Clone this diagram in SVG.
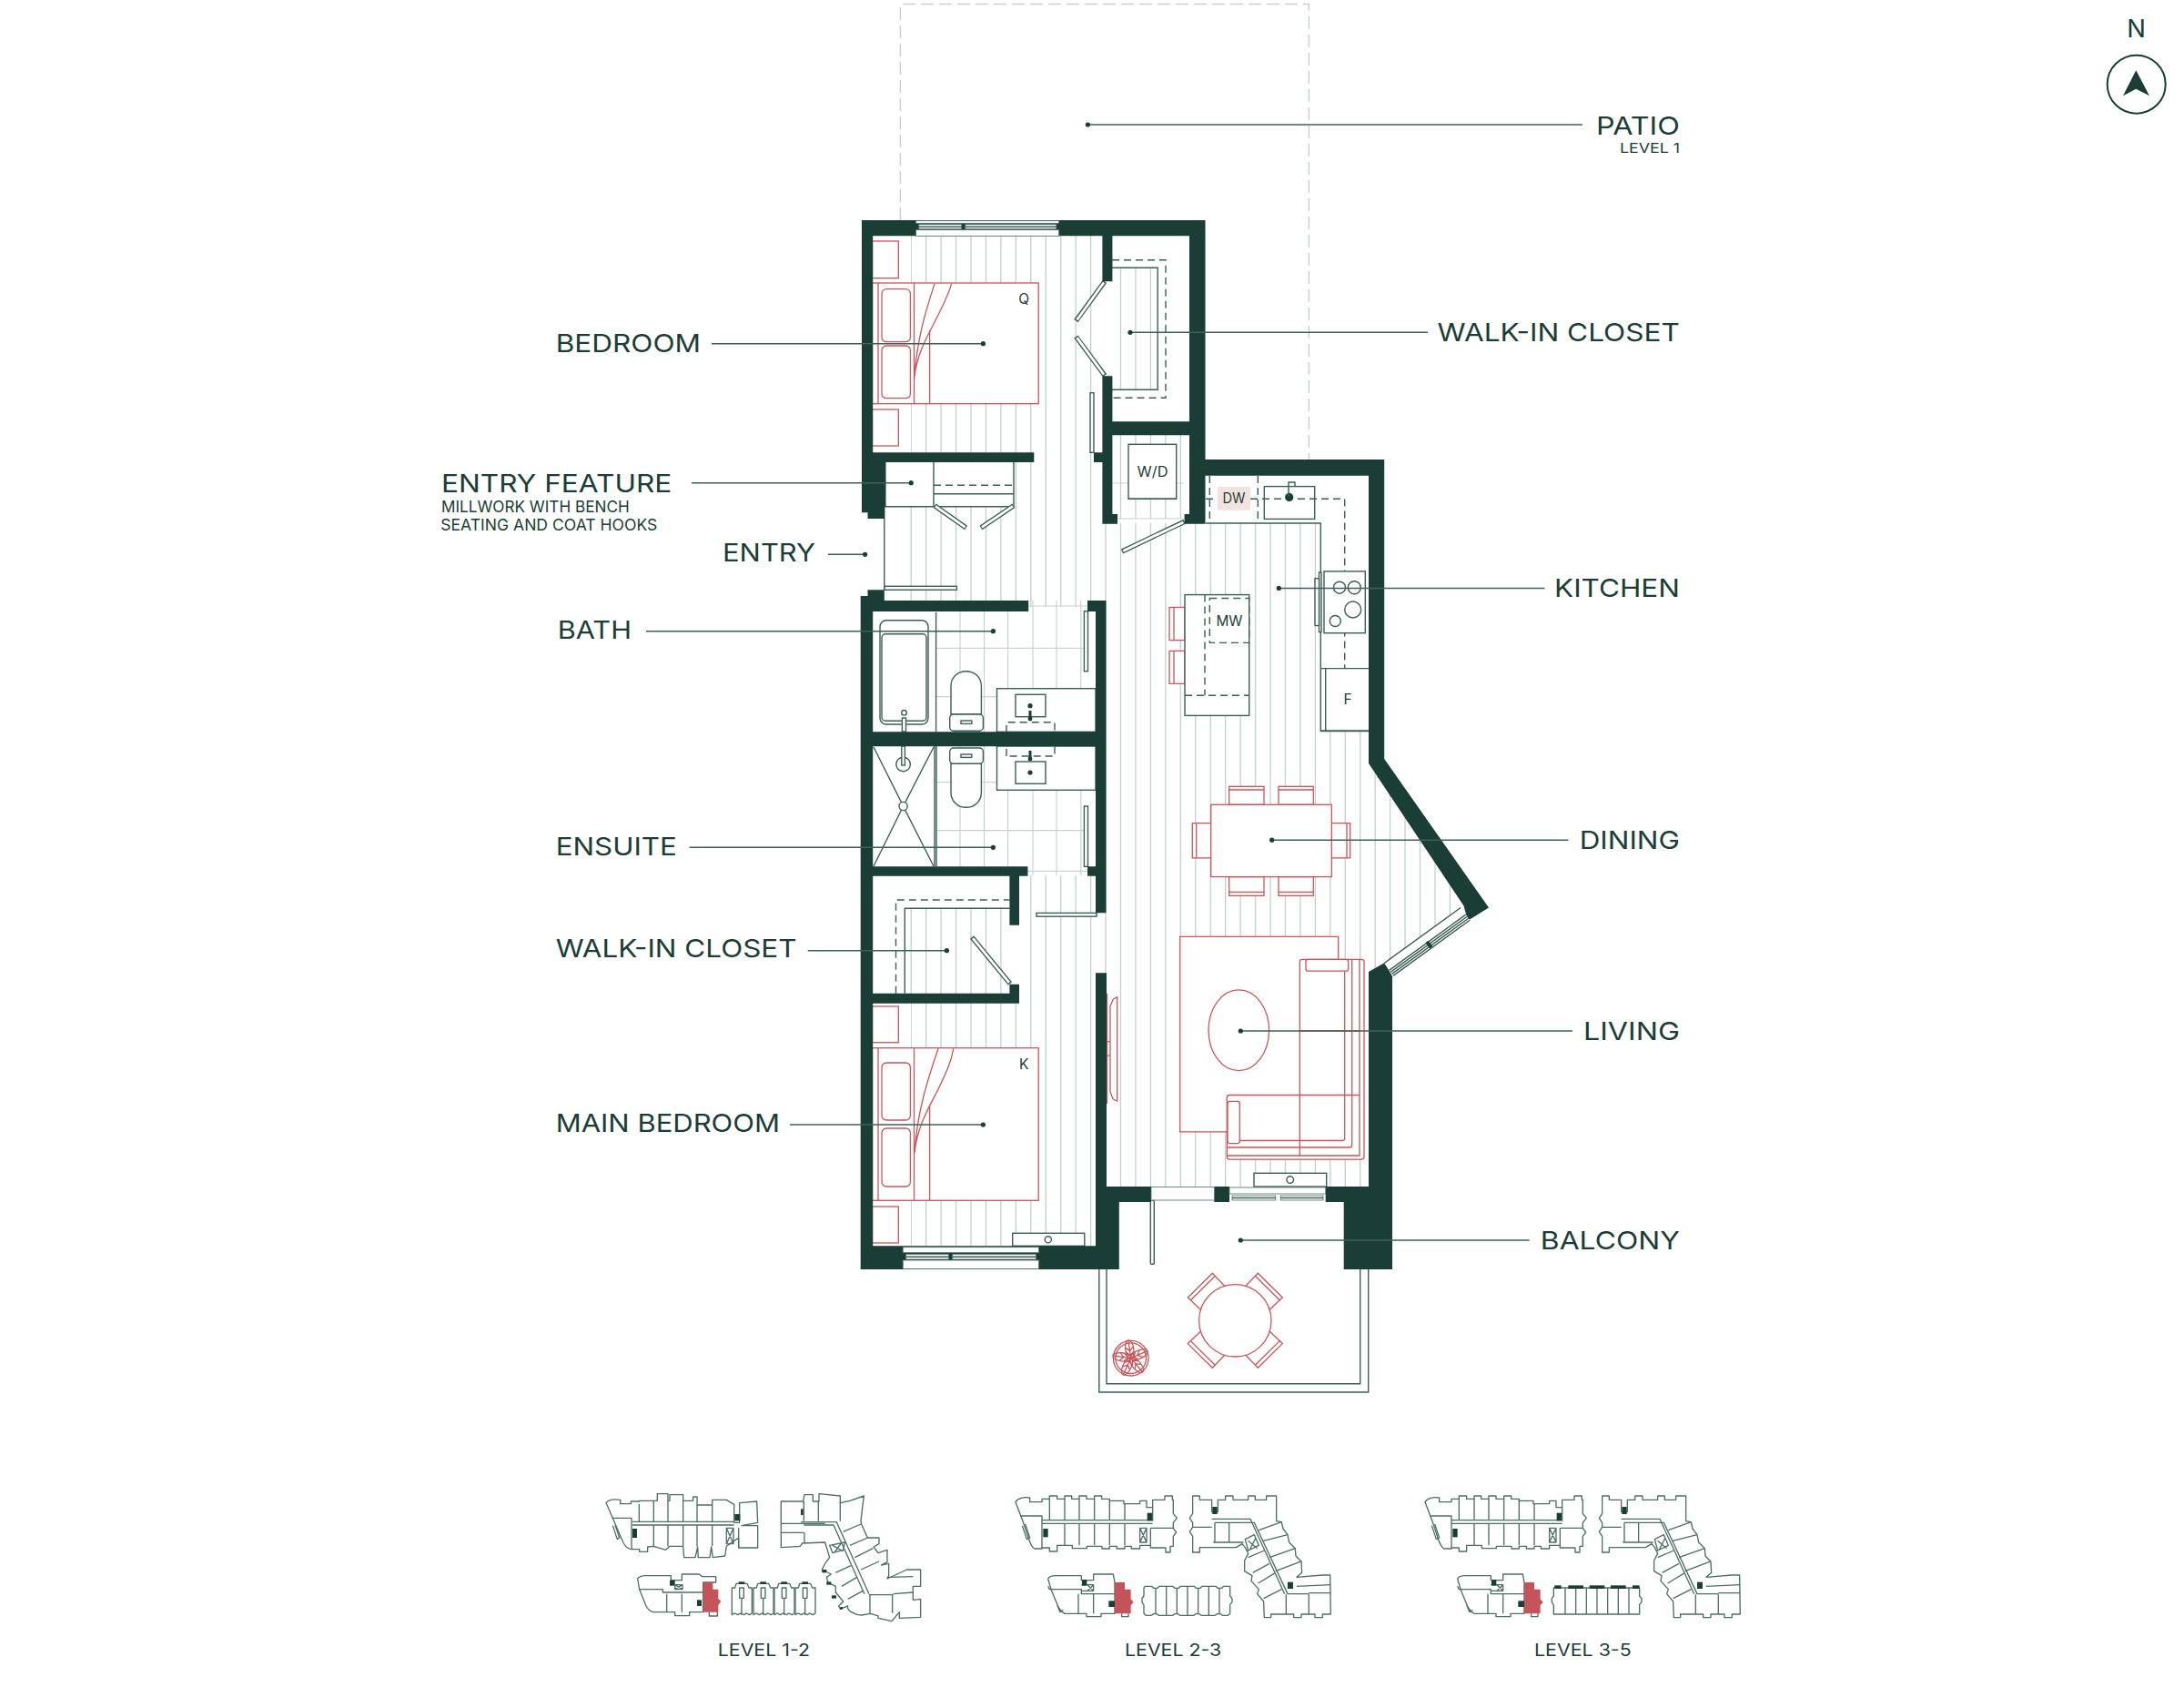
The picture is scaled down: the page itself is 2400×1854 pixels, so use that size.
<svg xmlns="http://www.w3.org/2000/svg" xmlns:xlink="http://www.w3.org/1999/xlink" width="2400" height="1854" viewBox="0 0 2400 1854">
<style>
text{font-family:Inter,"Liberation Sans",sans-serif;fill:#1b3d36}
.lb{font-size:27.5px}
.sm{font-size:17px}
.fx{font-size:15.5px;text-anchor:middle}
.wall{fill:#1a3d36}
.r{fill:#fff;stroke:#c9565b;stroke-width:1.3}
.rn{fill:none;stroke:#c9565b;stroke-width:1.3}
.l{fill:#fff;stroke:#3c5f56;stroke-width:1.4}
.ln{fill:none;stroke:#3c5f56;stroke-width:1.4}
.d{fill:none;stroke:#3c5f56;stroke-width:1.4;stroke-dasharray:8 5}
.do{fill:none;stroke:#3c5f56;stroke-width:5.4}
.di{fill:none;stroke:#fff;stroke-width:2.8}
.fl{fill:none;stroke:#c4d0cc;stroke-width:1.3}
.tl{fill:none;stroke:#c9d4d0;stroke-width:1.2}
.pt{fill:none;stroke:#c8d2cf;stroke-width:1.5;stroke-dasharray:14 6}
.w{fill:#fff;stroke:#4d6f66;stroke-width:.8}
.ld{fill:none;stroke:#3f6058;stroke-width:1.5}
.dot{fill:#1a3d36}
.p{fill:none;stroke:#4d6f66;stroke-width:4;stroke-linejoin:round}
.pd{fill:#1a3d36}
.pf{fill:#c4545a}
</style>
<defs>
<clipPath id="floorClip">
<rect x="1001" y="259" width="210" height="238"/>
<rect x="1114" y="497" width="102" height="170"/>
<rect x="972" y="556.7" width="232" height="105"/>
<rect x="1120" y="962" width="96" height="140"/>
<rect x="1001" y="1102" width="203" height="267"/>
<rect x="994.3" y="998" width="115" height="94"/>
<rect x="1222" y="294" width="50" height="134"/>
<rect x="1222" y="478" width="79" height="92"/>
<polygon points="1204,575 1451.3,575 1451.3,803.6 1504,803.6 1504,839 1610,996 1521,1060 1504,1068 1504,1304 1204,1304"/>
</clipPath>
<g id="bchair"><polygon class="r" points="-38,-12 -52,-25.3 -25,-52 -11.6,-38"/><path class="rn" d="M-49,-22.3L-22,-49"/></g>
<g id="leaf"><ellipse class="rn" cx="0" cy="-10" rx="4.6" ry="10"/><path class="rn" d="M0,-20V0M-4,-12L0,-8L4,-12M-4,-7L0,-3L4,-7"/></g>
<g id="planCore">
<path class="p" d="M48,62C55,50 75,45 95,48V62H135V52H160V42H185V52H210V42H233V52H258V42H282V52H308V42H332V52H358V58H405V68H458V58H480V80H500V55H540V42H565V55H568V100L580,115L568,130V148L578,162L568,175V208H558V228H543V213H493V205H458V216H430V208H408V216H382V208H358V216H333V208H283V215H235V205H185V225H160V213H135V216H110C100,210 95,195 90,180L72,125Z"/>
<path class="p" d="M70,140L85,185L95,180L80,135M65,108H135V213M135,122H500M135,133H500M160,52V122M210,52V122M258,52V122M308,52V122M358,58V122M408,68V122M210,133V205M258,133V205M308,133V205M358,133V205M408,133V205M493,148H568M493,148V205M500,80V125M458,148H480V195H458ZM458,148L480,195M480,148L458,195"/>
<rect class="pd" x="139" y="150" width="16" height="28"/><rect class="pd" x="482" y="98" width="16" height="26"/>
<path class="p" d="M632,55V42H655V55H695V95H715V55H740V42H765V55H815V42H838V55H875V42H908V125L925,128L930,150L945,170L950,195L970,215L972,240L990,258L992,295L975,310L1060,303H1085L1087,432H1060V443H1035V432H990V443H965V432H890V443H868L866,390L845,365L850,350L825,322L828,305L803,290V255L815,232L805,212L795,200L775,212H655V228H632V175L622,160L632,145V130L622,115L632,100Z"/>
<path class="p" d="M695,118H822L935,365M705,130H835L945,365H1015M850,155L925,128M865,190L945,170M885,245L970,215M905,290L990,258M815,245L868,222M830,295L885,265M848,330L905,295M866,380L925,350M940,367V432M1015,367V432M1015,362H1087M975,340L1087,335M705,130V195M752,130V195M632,145H695M700,195H800M815,222L850,205L835,170L805,185ZM815,190L845,215M840,180L820,220"/>
<rect class="pd" x="697" y="78" width="16" height="24"/><rect class="pd" x="945" y="326" width="18" height="22"/>
<path class="p" d="M155,315C160,305 170,305 180,305H265V320H305V300H370L375,327V430H330V440H282V430H210C200,425 195,420 190,410L165,350ZM155,340L160,350L165,350M165,350H265V365H375M255,365V430M305,365V430M265,335H305V355H265M285,335L305,355M305,335L285,355M398,430V440H420V430M185,402L195,425L205,418"/>
<rect class="pd" x="267" y="318" width="16" height="20"/><rect class="pd" x="355" y="388" width="20" height="20"/>
<polygon class="pf" points="375,327 408,327 408,350 428,350 428,382 437,392 428,403 428,430 375,430"/>
</g>
<g id="townUnit">
<path class="p" d="M2,22H12L16,8H52L58,22H68V106L60,111L48,106L42,111L30,106L22,111L10,106L2,111Z"/>
<path class="p" d="M27,22H41V56H27ZM34,56V111"/>
<rect class="pd" x="24" y="2" width="20" height="8"/>
</g>
</defs>

<g id="patio"><path class="pt" d="M989.4 242V4.5H1438.4V505"/></g>

<g id="flooring">
<path class="fl" clip-path="url(#floorClip)" d="M1001.2 250V1370M1017.65 250V1370M1034.1 250V1370M1050.55 250V1370M1067 250V1370M1083.45 250V1370M1099.9 250V1370M1116.35 250V1370M1132.8 250V1370M1149.25 250V1370M1165.7 250V1370M1182.15 250V1370M1198.6 250V1370M1215.05 250V1370M1231.5 250V1370M1247.95 250V1370M1264.4 250V1370M1280.85 250V1370M1297.3 250V1370M1313.75 250V1370M1330.2 250V1370M1346.65 250V1370M1363.1 250V1370M1379.55 250V1370M1396 250V1370M1412.45 250V1370M1428.9 250V1370M1445.35 250V1370M1461.8 250V1370M1478.25 250V1370M1494.7 250V1370M1511.15 250V1370M1527.6 250V1370M1544.05 250V1370M1560.5 250V1370M1576.95 250V1370M1593.4 250V1370M1609.85 250V1370"/>
<path class="tl" d="M1055 672V804M1081.6 672V804M1107.6 672V804M1135 660V804M1161 660V804M1187.8 660V804M1055 820V952M1081.6 820V952M1107.6 820V952M1135 820V962M1161 820V962M1187.8 820V962M1130 666H1195M1029 712.3H1191M1029 765.7H1095M1029 859.7H1095M1029 912.7H1191M1129 957.3H1195M1222 531H1301M1228 570H1301"/>
</g>

<g id="bedroom">
<rect class="r" x="958.5" y="265" width="28.8" height="40.7"/>
<rect class="r" x="958.5" y="450" width="28.8" height="40"/>
<rect class="r" x="958.5" y="311" width="182.7" height="132.7"/>
<path class="rn" d="M965 311V443.7M1004.5 311V443.7M1021.6 363V443.7"/>
<rect class="r" x="969" y="317.7" width="31.4" height="58" rx="5"/>
<rect class="r" x="969" y="380" width="31.4" height="57.7" rx="5"/>
<path class="rn" d="M1027 311.7C1018 340 1008 370 1004.5 416.7C1008 385 1022 365 1030 348C1038 332 1042 325 1045.7 311.7"/>
<text class="fx" x="1125.3" y="334">Q</text>
</g>

<g id="closet-north">
<path class="d" d="M1222 285.7H1281V437.3H1222"/>
<path class="ln" d="M1222 294.3H1272.2V428.3H1222"/>
<path class="do" d="M1214 309.3L1182.4 352.7M1214 412.7L1182.4 370"/>
<path class="di" d="M1213 310.5L1183.5 351.5M1213 411.5L1183.5 371.2"/>
<rect class="l" x="1198" y="431.7" width="4" height="65.6"/>
</g>

<g id="laundry">
<rect class="l" x="1240" y="488.3" width="52.7" height="60"/>
<path class="ln" d="M1240 548.3H1292.7" stroke-width="2"/>
<text class="fx" x="1266.5" y="523.5" textLength="34" lengthAdjust="spacingAndGlyphs">W/D</text>
<path class="do" d="M1301.6 573.3L1233 606"/><path class="di" d="M1300.4 573.9L1234.2 605.4"/>
</g>

<g id="entry-feature">
<path class="ln" d="M1026 508V556.7M971.8 556.7H1114M971.8 556.7V648M1026 542.7H1114"/>
<path class="ln" d="M1114 508V556.7" stroke-width="2.6"/>
<path class="d" d="M1026 533.3H1114"/>
<path class="do" d="M1027 555.7L1061.6 580M1113.9 555.7L1078 580"/>
<path class="di" d="M1028 556.4L1060.6 579.3M1112.9 556.4L1079 579.3"/>
<rect class="l" x="972" y="644.3" width="79.4" height="4"/>
</g>

<g id="bath">
<path class="ln" d="M1028.6 673V804"/>
<rect class="l" x="967" y="681.7" width="53" height="114.3" rx="7"/>
<rect class="l" x="969" y="696.7" width="49" height="95.6" rx="4"/>
<circle class="l" cx="993.5" cy="783.3" r="2.8"/>
<rect class="l" x="991.4" y="789" width="4.1" height="15"/>
<path class="l" d="M1045 785V754C1045 744 1053 737.7 1061.7 737.7C1070.4 737.7 1078.4 744 1078.4 754V785Z"/>
<rect class="l" x="1043.7" y="785" width="36.7" height="18.3" rx="4"/>
<rect class="l" x="1056" y="792" width="11.8" height="3.4"/>
<rect class="l" x="1095.5" y="756.7" width="108.5" height="47.6"/>
<rect class="l" x="1116" y="763.3" width="33" height="24.4"/>
<circle class="dot" cx="1132" cy="775.7" r="2.6"/>
<rect class="dot" x="1130.5" y="781" width="3" height="11"/><circle class="dot" cx="1132" cy="790" r="2.4"/>
<rect class="l" x="1191.4" y="671.7" width="4.1" height="66"/>
</g>

<g id="ensuite">
<rect class="l" x="1095.5" y="820" width="108.5" height="48.3"/>
<rect class="l" x="1116" y="837" width="33" height="24.3"/>
<circle class="dot" cx="1132" cy="849" r="2.6"/>
<rect class="dot" x="1130.5" y="825" width="3" height="11"/><circle class="dot" cx="1132" cy="834" r="2.4"/>
<path class="d" d="M1106 831V793.7H1159V831H1106"/>
<path class="l" d="M1045 839.3V871C1045 881 1053 887.3 1061.7 887.3C1070.4 887.3 1078.4 881 1078.4 871V839.3Z"/>
<rect class="l" x="1043.7" y="822" width="36.7" height="17.3" rx="4"/>
<rect class="l" x="1056" y="829" width="11.8" height="3.4"/>
<rect class="l" x="1191.4" y="886" width="4.1" height="66.3"/>
<path class="ln" d="M960 821L992.6 886L960 952M1026 821L992.6 886L1026 952"/>
<path class="ln" d="M1027 820V952M1029 820V952"/>
<circle class="l" cx="992.6" cy="886" r="4.6"/>
<circle class="l" cx="992.6" cy="840" r="7.8"/>
<rect class="l" x="990.8" y="820" width="3.6" height="21"/>
</g>

<g id="closet-main">
<path class="d" d="M984.5 1091.7V989H1109.4"/>
<path class="ln" d="M994.3 1091.7V998.3H1109.4"/>
<path class="do" d="M1110 1081L1068 1030"/><path class="di" d="M1109 1079.8L1069 1031.2"/>
</g>

<g id="main-bedroom">
<rect class="l" x="1139" y="1003.4" width="66" height="3.8"/>
<rect class="r" x="958.5" y="1106" width="28.8" height="39.7"/>
<rect class="r" x="958.5" y="1326" width="28.8" height="40"/>
<rect class="r" x="958.5" y="1151.7" width="182.7" height="167.6"/>
<path class="rn" d="M965 1151.7V1319.3M1004.5 1151.7V1319.3M1021.6 1215V1319.3"/>
<rect class="r" x="969" y="1168" width="31.4" height="63" rx="5"/>
<rect class="r" x="969" y="1240" width="31.4" height="64" rx="5"/>
<path class="rn" d="M1031 1152.3C1020 1185 1008 1220 1005 1267.3C1008 1235 1024 1212 1032 1195C1040 1178 1045 1168 1047.8 1152.3"/>
<text class="fx" x="1125.3" y="1175">K</text>
<rect class="l" x="1112.7" y="1355.3" width="79.1" height="14"/>
<circle class="ln" cx="1151.8" cy="1362.3" r="3.6"/>
</g>

<g id="kitchen">
<path class="ln" d="M1325 575H1451.3V803.6H1504M1456.7 734.6V803.6"/>
<path class="d" d="M1329.3 523V575M1382.3 523V575"/>
<rect x="1338" y="535" width="36" height="25.7" fill="#f3e3df"/>
<rect class="l" x="1389.3" y="534.6" width="55.4" height="35.8"/>
<path class="d" d="M1325 548.2H1338M1374 548.2H1477.7V734"/>
<text class="fx" x="1356" y="553.2" textLength="25" lengthAdjust="spacingAndGlyphs">DW</text>
<circle class="dot" cx="1416.7" cy="546.4" r="4.6"/>
<path class="ln" d="M1416 546V530H1423V534" stroke-width="2.4"/>
<path class="ln" d="M1451.3 734.6H1504" stroke-width="2.6"/>
<path class="ln" d="M1451.3 803H1504" stroke-width="2.2"/>
<text class="fx" x="1481" y="774">F</text>
<rect class="l" x="1449.5" y="629" width="2.5" height="65.6"/>
<rect class="l" x="1445" y="635.7" width="4.5" height="51.8"/>
<rect class="l" x="1455" y="627.9" width="45.3" height="67.8"/>
<circle class="ln" cx="1472" cy="645.7" r="6.5"/>
<circle class="ln" cx="1488.3" cy="645.7" r="7"/>
<circle class="ln" cx="1486.7" cy="670" r="9"/>
<circle class="ln" cx="1467.3" cy="682.5" r="6"/>
<rect class="r" x="1285" y="667.5" width="17" height="36.1"/>
<rect class="r" x="1285" y="715.4" width="17" height="36"/>
<path class="rn" d="M1290 667.5V703.6M1290 715.4V751.4"/>
<rect class="l" x="1302" y="653.6" width="70.7" height="132.8"/>
<path class="d" d="M1324 653.6V764.3M1302 764.3H1372.7"/>
<rect class="d" x="1329.3" y="657.5" width="43.4" height="48.9"/>
<text class="fx" x="1351" y="687.5" textLength="29" lengthAdjust="spacingAndGlyphs">MW</text>
</g>

<g id="dining">
<rect class="r" x="1350.7" y="864.3" width="38.3" height="20"/><rect class="r" x="1405" y="864.3" width="38.3" height="20"/>
<rect class="r" x="1350.7" y="963.6" width="38.3" height="20.7"/><rect class="r" x="1405" y="963.6" width="38.3" height="20.7"/>
<rect class="r" x="1310.3" y="904.6" width="20.4" height="38.3"/><rect class="r" x="1463.3" y="904.6" width="20.4" height="38.3"/>
<path class="rn" d="M1350.7 868H1389M1405 868H1443.3M1350.7 980.4H1389M1405 980.4H1443.3M1314.7 904.6V942.9M1480 904.6V942.9"/>
<rect class="r" x="1330.7" y="884.3" width="132.6" height="79.3"/>
</g>

<g id="living">
<polygon class="r" points="1296.7,1029.3 1470.7,1029.3 1470.7,1060 1430,1060 1430,1205 1348.7,1205 1348.7,1243.8 1296.7,1243.8"/>
<ellipse class="r" cx="1361.3" cy="1132.3" rx="33.3" ry="44.4"/>
<path class="r" d="M1348.3 1206Q1348.3 1203.5 1351 1203.5H1428.3V1057Q1428.3 1054.4 1431 1054.4H1496Q1499 1054.4 1499 1057V1271Q1499 1274.1 1496 1274.1H1351Q1348.3 1274.1 1348.3 1271Z"/>
<path class="rn" d="M1477.7 1060V1251Q1477.7 1253.5 1475 1253.5H1362M1485.7 1054.4V1258Q1485.7 1261 1483 1261H1348.3M1494 1054.4V1270H1348.3M1428.3 1133H1494M1428.3 1203.5H1494M1428.3 1203.5V1270"/>
<rect class="r" x="1435" y="1054.4" width="46.7" height="12.8" rx="2.5"/>
<rect class="r" x="1349" y="1210.4" width="13.3" height="46.2" rx="2.5"/>
<path class="r" d="M1227.7 1095.8L1223.3 1098L1220 1106V1200L1223.3 1208L1227.7 1210Z"/>
<path class="rn" d="M1216.5 1092V1213M1216 1144.7H1220M1216 1160.2H1220"/>
<rect class="l" x="1378" y="1289.3" width="79.7" height="14.7"/>
<circle class="ln" cx="1417.7" cy="1296.5" r="3.8" stroke-width="1.8"/>
</g>

<g id="balcony">
<path class="ln" d="M1207.8 1395V1530H1503.7V1395M1216 1395V1520.7H1494.7V1395" stroke-width="1.6"/>
<rect class="l" x="1264.3" y="1319" width="4" height="70.3" rx="1"/>
<g transform="translate(1357.3 1451.3)">
<use xlink:href="#bchair" href="#bchair"/>
<use xlink:href="#bchair" href="#bchair" transform="scale(-1 1)"/>
<use xlink:href="#bchair" href="#bchair" transform="scale(1 -1)"/>
<use xlink:href="#bchair" href="#bchair" transform="scale(-1 -1)"/>
<circle class="r" cx="0" cy="0" r="39.7"/>
</g>
<g transform="translate(1242.7 1492.7)">
<circle class="rn" r="19.3"/><circle class="rn" r="16.8"/>
<use xlink:href="#leaf" href="#leaf" transform="rotate(-8)"/>
<use xlink:href="#leaf" href="#leaf" transform="rotate(66)"/>
<use xlink:href="#leaf" href="#leaf" transform="rotate(140)"/>
<use xlink:href="#leaf" href="#leaf" transform="rotate(205)"/>
<use xlink:href="#leaf" href="#leaf" transform="rotate(278)"/>
</g>
</g>

<g id="walls">
<path class="wall" d="M947 242H1324.5V259.3H959.2V497.3H1136.3V508H973.5V556.7H972V570H953.5V563.3H947Z"/>
<path class="wall" d="M1307 259H1324.5V505H1521.2V834L1636 997.5L1613 1011.8L1608.5 995.5L1504 839V522.7H1324.5V575.7H1307Z"/>
<path class="wall" d="M1211.4 259H1222.4V309.3H1211.4ZM1211.4 413.3H1222.4V463.3H1307V478.3H1222.4V565H1228V575.7H1211.4V508H1202V497.3H1211.4ZM1301.6 565H1307V575.7H1301.6Z"/>
<path class="wall" d="M953.5 648.3H971.8V660H1130.2V672H959.2V804.3H1204V672H1195V660H1215.5V1003.3H1204V962.7H1195V952.3H1204V820.3H959.2V952.3H1129.4V962.7H1120V1016.7H1109.4V962.7H959.2V1091.7H1109.4V1081.7H1120V1102.7H959.2V1369.3H1204V1069.3H1216V1304H1265V1321H1229.8V1395H945.7V655H953.5Z"/>
<path class="wall" d="M1334.3 1304H1351V1321H1334.3ZM1456.7 1304H1504V1068L1521.7 1058L1530 1073V1395H1476.7V1321H1456.7Z"/>
</g>

<g id="windows">
<rect class="w" x="1006.5" y="242.7" width="157.2" height="2.6"/>
<rect class="w" x="1009.8" y="246.7" width="46.9" height="5"/><rect class="w" x="1060.8" y="246.7" width="100" height="5"/>
<path class="ln" d="M1009.8 249.2H1056.7M1060.8 249.2H1160.8" stroke-width=".9"/>
<rect class="w" x="1006.5" y="252.7" width="157.2" height="6.6"/>
<rect class="w" x="992.2" y="1370.7" width="149.4" height="6"/>
<rect class="w" x="995.5" y="1378.3" width="47" height="5.7"/><rect class="w" x="1046.5" y="1378.3" width="91.9" height="5.7"/>
<path class="ln" d="M995.5 1381.2H1042.5M1046.5 1381.2H1138.4" stroke-width=".9"/>
<rect class="w" x="992.2" y="1385" width="149.4" height="9.4"/>
<rect class="w" x="1351" y="1305" width="105.7" height="7"/>
<rect class="w" x="1354" y="1314" width="47.7" height="5"/><rect class="w" x="1407.3" y="1314" width="46.7" height="5"/>
<path class="ln" d="M1354 1316.5H1401.7M1407.3 1316.5H1454" stroke-width=".9"/>
<rect class="w" x="1265" y="1304.5" width="69.3" height="14.5"/>
<g transform="translate(1526 1065.5) rotate(-36)">
<rect x="0" y="-8.5" width="104" height="17" fill="#fff"/>
<path class="ln" d="M0 -8.5H104M0 1H104M0 3.5H104M0 6H104M0 8.5H104" stroke-width="1"/>
<rect class="wall" x="50" y="0" width="4" height="8"/>
</g>
</g>

<g id="connectors">
<path class="ld" d="M1738.8 137H1195.4"/><circle class="dot" cx="1195.4" cy="137" r="2.6"/>
<path class="ld" d="M1569 365.3H1242"/><circle class="dot" cx="1242" cy="365.3" r="2.6"/>
<path class="ld" d="M782 377.7H1080.4"/><circle class="dot" cx="1080.4" cy="377.7" r="2.6"/>
<path class="ld" d="M760 530.7H1001.2"/><circle class="dot" cx="1001.2" cy="530.7" r="2.6"/>
<path class="ld" d="M910 609.3H950.6"/><circle class="dot" cx="950.6" cy="609.3" r="2.6"/>
<path class="ld" d="M710 693.7H1091.4"/><circle class="dot" cx="1091.4" cy="693.7" r="2.6"/>
<path class="ld" d="M1697.5 646.4H1405.3"/><circle class="dot" cx="1405.3" cy="646.4" r="2.6"/>
<path class="ld" d="M1723.4 923.2H1397.7"/><circle class="dot" cx="1397.7" cy="923.2" r="2.6"/>
<path class="ld" d="M757.6 931.3H1091.4"/><circle class="dot" cx="1091.4" cy="931.3" r="2.6"/>
<path class="ld" d="M887.7 1044.7H1040.4"/><circle class="dot" cx="1040.4" cy="1044.7" r="2.6"/>
<path class="ld" d="M1728 1133H1363.3"/><circle class="dot" cx="1363.3" cy="1133" r="2.6"/>
<path class="ld" d="M868 1236H1080.4"/><circle class="dot" cx="1080.4" cy="1236" r="2.6"/>
<path class="ld" d="M1680.6 1363H1363.3"/><circle class="dot" cx="1363.3" cy="1363" r="2.6"/>
</g>

<g id="labels">
<text class="lb" x="1754" y="148" textLength="91.9" lengthAdjust="spacingAndGlyphs">PATIO</text>
<text x="1780" y="168" font-size="14.5" textLength="66" lengthAdjust="spacingAndGlyphs">LEVEL 1</text>
<text class="lb" x="1579.6" y="375" textLength="266.3" lengthAdjust="spacingAndGlyphs">WALK-IN CLOSET</text>
<text class="lb" x="610.7" y="386.5" textLength="159.3" lengthAdjust="spacingAndGlyphs">BEDROOM</text>
<text class="lb" x="485" y="540.7" textLength="253.3" lengthAdjust="spacingAndGlyphs">ENTRY FEATURE</text>
<text class="sm" x="485" y="562.7" textLength="206.7" lengthAdjust="spacingAndGlyphs">MILLWORK WITH BENCH</text>
<text class="sm" x="484.3" y="583.3" textLength="238" lengthAdjust="spacingAndGlyphs">SEATING AND COAT HOOKS</text>
<text class="lb" x="794" y="617.3" textLength="102" lengthAdjust="spacingAndGlyphs">ENTRY</text>
<text class="lb" x="612.7" y="702" textLength="81.3" lengthAdjust="spacingAndGlyphs">BATH</text>
<text class="lb" x="1708" y="656" textLength="137.9" lengthAdjust="spacingAndGlyphs">KITCHEN</text>
<text class="lb" x="1735.7" y="933" textLength="110.2" lengthAdjust="spacingAndGlyphs">DINING</text>
<text class="lb" x="610.7" y="940" textLength="133.2" lengthAdjust="spacingAndGlyphs">ENSUITE</text>
<text class="lb" x="610.7" y="1052" textLength="264.8" lengthAdjust="spacingAndGlyphs">WALK-IN CLOSET</text>
<text class="lb" x="1740" y="1143" textLength="105.9" lengthAdjust="spacingAndGlyphs">LIVING</text>
<text class="lb" x="610.7" y="1243.7" textLength="246.3" lengthAdjust="spacingAndGlyphs">MAIN BEDROOM</text>
<text class="lb" x="1692.8" y="1373" textLength="153.1" lengthAdjust="spacingAndGlyphs">BALCONY</text>
<text x="2347.5" y="40.7" font-size="27.5" text-anchor="middle">N</text>
<text x="788.8" y="1820" font-size="18" textLength="101.2" lengthAdjust="spacingAndGlyphs">LEVEL 1-2</text>
<text x="1236" y="1820" font-size="18" textLength="106.3" lengthAdjust="spacingAndGlyphs">LEVEL 2-3</text>
<text x="1686" y="1820" font-size="18" textLength="106.7" lengthAdjust="spacingAndGlyphs">LEVEL 3-5</text>
</g>

<g id="compass">
<circle cx="2347.7" cy="92.7" r="32" fill="none" stroke="#1a3d36" stroke-width="2"/>
<polygon class="wall" points="2347.3,77.3 2362,105.3 2347.3,97.7 2333,105.3"/>
</g>

<g id="key-level-1-2" transform="translate(660 1640) scale(.3333)">
<path class="p" d="M18,35C25,25 45,22 65,25V38H100V30H127V28H187V5H222V28H228V8H272V28H305V15H318V42H368V25H415L440,40V100H458V35L515,30L518,100L465,110H518V183H455V150L415,178L410,210L370,215L365,180L360,215L322,215L320,180L312,215L275,215L272,178H228L215,190L175,178L155,180V196H128V188H100C85,185 75,170 70,155L25,50Z"/>
<path class="p" d="M40,110L55,155L62,150L48,108M38,85H102V188M105,97H440M105,108H440M127,38V97M175,28V97M222,28V97M272,28V97M318,42V97M368,42V97M175,108V178M222,108V178M272,108V178M318,108V178M368,108V178M415,118H438V170H415ZM415,118L438,170M438,118L415,170M455,118V183"/>
<rect class="pd" x="105" y="120" width="15" height="30"/><rect class="pd" x="442" y="72" width="18" height="22"/>
<path class="p" d="M595,30H668L672,8H700V30H720V5L790,12V35L822,28L868,12L858,95L860,105L880,150H918V170L900,180L915,200L945,190V230L925,240L950,235V275L945,285L1010,255H1055V310H1030V355L1055,352V412L985,415V395L960,425L915,415V408L890,400L860,405C840,405 810,390 815,375L790,385L785,375L800,360L775,330V310L750,298L745,280L760,270L730,255L740,235L755,215L740,165L665,168L658,178L595,182Z"/>
<path class="p" d="M660,98H778L885,335M670,108H768L870,335M800,130L858,105M822,175L880,150M838,215L898,185M858,255L918,228M775,265L825,242M795,310L845,280M815,352L865,325M670,30V95M718,30V95M790,35V95M595,103H740M595,133H670M672,133V168M885,338H965M888,338V400M962,338V398M945,280L1030,278M965,335L1030,330M755,175L805,165L800,190L765,200ZM765,175L800,195M795,165L770,200"/>
<rect class="pd" x="730" y="255" width="15" height="10"/><rect class="pd" x="745" y="295" width="15" height="10"/><rect class="pd" x="762" y="340" width="15" height="10"/><rect class="pd" x="790" y="378" width="8" height="8"/><rect class="pd" x="660" y="55" width="8" height="20"/>
<path class="p" d="M122,285C128,275 140,275 150,275H232V290H268V270H325L335,278H380V297H338V395H293V407H245V395H172C160,390 155,385 150,375L128,320ZM128,320H205V330H338M218,335V395M268,335V395M358,395V408H385V378"/>
<rect class="pd" x="228" y="290" width="17" height="18"/><rect class="pd" x="318" y="355" width="15" height="20"/>
<path class="p" d="M245,305H270V320H245ZM245,305L270,320M270,305L245,320"/>
<polygon class="pf" points="338,297 370,297 370,320 388,320 388,350 397,360 388,372 388,395 338,395"/>
<use xlink:href="#townUnit" href="#townUnit" transform="translate(431 293)"/>
<use xlink:href="#townUnit" href="#townUnit" transform="translate(502 293)"/>
<use xlink:href="#townUnit" href="#townUnit" transform="translate(571 293)"/>
<use xlink:href="#townUnit" href="#townUnit" transform="translate(640 293)"/>
</g>

<g id="key-level-2-3" transform="translate(1100 1630) scale(.3333)">
<use xlink:href="#planCore" href="#planCore"/>
<path class="p" d="M475,340H497L503,346H516L522,340H566L572,346H586L592,340H637L643,346H657L663,340H708L714,346H728L734,340H755V372L762,380V392L755,400V430L748,436H730L724,431H712L706,436H660L654,431H642L636,436H590L584,431H572L566,436H520L514,431H502L496,436H478L471,430V402L465,392V380L471,372V345ZM510,346V431M545,340V436M580,346V431M615,340V436M650,346V431M685,340V436M720,346V431"/>
</g>

<g id="key-level-3-5" transform="translate(1550 1630) scale(.3333)">
<use xlink:href="#planCore" href="#planCore"/>
<path class="p" d="M472,345H755V372L762,380V392L755,400V432H472V402L466,392V380L472,372ZM510,345V432M545,345V432M580,345V432M615,345V432M650,345V432M685,345V432M720,345V432"/>
<rect class="pd" x="475" y="337" width="22" height="11"/><rect class="pd" x="520" y="337" width="50" height="11"/><rect class="pd" x="590" y="337" width="50" height="11"/><rect class="pd" x="660" y="337" width="50" height="11"/><rect class="pd" x="732" y="337" width="23" height="11"/>
</g>
</svg>
